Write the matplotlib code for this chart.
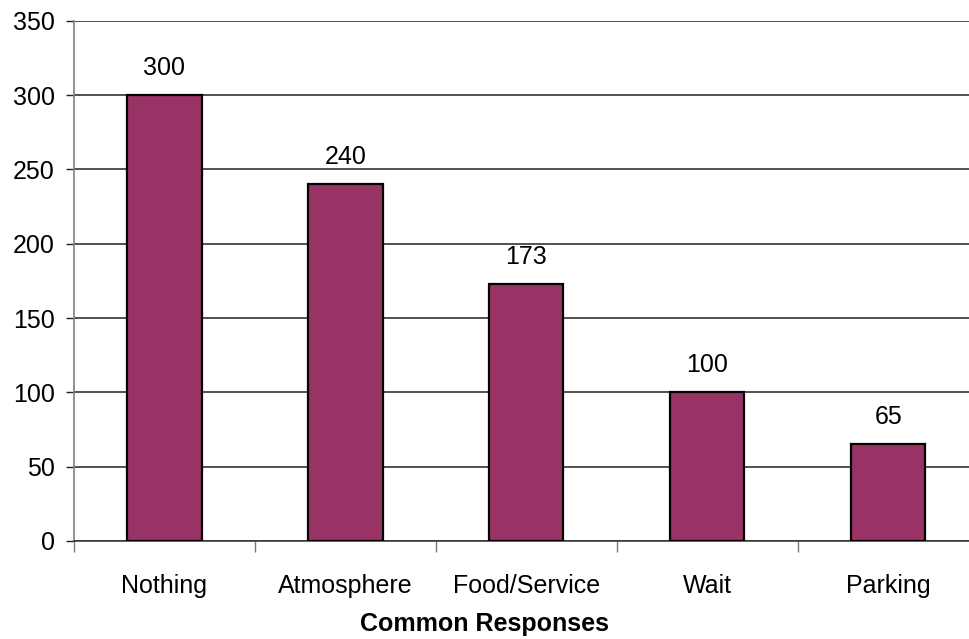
from matplotlib import pyplot as plt
import numpy as np

categories = ["Nothing", "Atmosphere", "Food/Service", "Wait", "Parking"]
values = [300, 240, 173, 100, 65]
yticks = [0, 50, 100, 150, 200, 250, 300, 350]

plt.rcParams['font.family'] = ['Liberation Sans', 'DejaVu Sans']

fig = plt.figure(figsize=(9.69, 6.39), dpi=100)
# axes runs slightly past the right edge like the original crop
ax = fig.add_axes([74 / 969, 1 - 541 / 639, 904.7 / 969, 520.3 / 639])

x = np.arange(len(categories))
ax.bar(x, values, width=0.41, color='#993366', edgecolor='black', linewidth=1.6, zorder=3)

for xi, v in zip(x, values):
    ax.annotate(str(v), (xi, v), xytext=(0, 14.4), textcoords='offset points',
                ha='center', va='baseline', fontsize=18)

ax.set_xlim(-0.5, len(categories) - 0.5)
ax.set_ylim(0, 350)
ax.set_yticks(yticks)
ax.tick_params(axis='y', labelsize=18, length=6, width=1, color='#222222', pad=8)
ax.yaxis.grid(True, color='#222222', linewidth=1.1, zorder=0)

ax.set_xticks(x)
ax.set_xticklabels(categories)
ax.tick_params(axis='x', which='major', length=0, labelsize=18, pad=24)
ax.set_xticks(np.arange(len(categories) + 1) - 0.5, minor=True)
ax.tick_params(axis='x', which='minor', length=8, width=1, color='#777777')

for s in ['top', 'right']:
    ax.spines[s].set_visible(False)
ax.spines['left'].set_color('#808080')
ax.spines['left'].set_linewidth(1.2)
ax.spines['bottom'].set_color('#333333')
ax.spines['bottom'].set_linewidth(1.1)

fig.text(0.5, 1 - 624 / 639, "Common Responses", ha='center', va='center',
         fontsize=18, fontweight='bold')

plt.savefig('out.png', dpi=100)
